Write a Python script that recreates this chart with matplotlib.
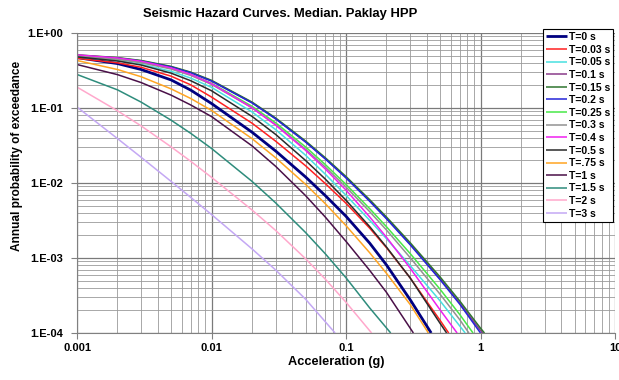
import matplotlib
matplotlib.use("Agg")
import matplotlib.pyplot as plt
from matplotlib.ticker import LogLocator, FixedLocator, FixedFormatter, NullFormatter
import numpy as np

plt.rcParams['font.family'] = ['Liberation Sans', 'DejaVu Sans']

# ---------------- data ----------------
title = "Seismic Hazard Curves. Median. Paklay HPP"
x_label = "Acceleration (g)"
y_label = "Annual probability of exceedance"
x_ticks = [0.001, 0.01, 0.1, 1, 10]
x_tick_labels = ["0.001", "0.01", "0.1", "1", "10"]
y_ticks = [1e-4, 1e-3, 1e-2, 1e-1, 1e0]
y_tick_labels = ["1.E-04", "1.E-03", "1.E-02", "1.E-01", "1.E+00"]

labels = ["T=0 s", "T=0.03 s", "T=0.05 s", "T=0.1 s", "T=0.15 s", "T=0.2 s",
          "T=0.25 s", "T=0.3 s", "T=0.4 s", "T=0.5 s", "T=.75 s", "T=1 s",
          "T=1.5 s", "T=2 s", "T=3 s"]

# accelerations (g) at which the curves were read
acc = [0.001, 0.002, 0.003, 0.005, 0.007, 0.01, 0.02, 0.03, 0.05, 0.07,
       0.1, 0.15, 0.2, 0.3, 0.5, 0.7, 1.0]

x_t000 = acc[:14] + [0.43]
y_t000 = [0.47, 0.391, 0.326, 0.237, 0.1734, 0.1148, 0.0476, 0.0267, 0.01205,
          0.00682, 0.0036, 0.001578, 0.000807, 0.000278, 0.0001]

x_t003 = acc[:15] + [0.58]
y_t003 = [0.46, 0.40, 0.349, 0.266, 0.2037, 0.14, 0.0628, 0.0361, 0.017,
          0.00986, 0.00537, 0.0025, 0.00137, 0.000542, 0.000148, 0.0001]

x_t005 = acc[:15] + [0.77]
y_t005 = [0.48, 0.4285, 0.383, 0.309, 0.2506, 0.1884, 0.0887, 0.0515, 0.0235,
          0.01315, 0.00686, 0.00318, 0.00181, 0.000793, 0.000269, 0.0001]

x_t010 = acc[:17] + [1.04]
y_t010 = [0.505, 0.465, 0.425, 0.354, 0.297, 0.23, 0.118, 0.072, 0.0355,
          0.0212, 0.0118, 0.0058, 0.0034, 0.00153, 0.000532, 0.000252,
          0.000108, 0.0001]

x_t015 = acc[:17] + [1.07]
y_t015 = [0.511, 0.47, 0.43, 0.359, 0.301, 0.234, 0.12, 0.0736, 0.0364,
          0.0218, 0.0122, 0.006, 0.00352, 0.0016, 0.000561, 0.000268,
          0.000116, 0.0001]

x_t020 = acc[:16] + [1.0]
y_t020 = [0.50, 0.462, 0.422, 0.352, 0.295, 0.229, 0.117, 0.0716, 0.0352,
          0.021, 0.0117, 0.0057, 0.00333, 0.0015, 0.000515, 0.000243, 0.0001]

x_t025 = acc[:16] + [0.88]
y_t025 = [0.499, 0.454, 0.41, 0.339, 0.281, 0.214, 0.1054, 0.0634, 0.0303,
          0.0177, 0.00957, 0.00455, 0.00261, 0.001146, 0.000384, 0.000177, 0.0001]

x_t030 = acc[:16] + [0.82]
y_t030 = [0.488, 0.444, 0.401, 0.331, 0.272, 0.2065, 0.1007, 0.0598, 0.0282,
          0.0164, 0.00883, 0.00415, 0.00236, 0.00101, 0.00033, 0.000151, 0.0001]

x_t040 = acc[:15] + [0.67]
y_t040 = [0.511, 0.4645, 0.42, 0.343, 0.281, 0.2113, 0.1007, 0.0592, 0.0273,
          0.01545, 0.00805, 0.00353, 0.00189, 0.000731, 0.000204, 0.0001]

x_t050 = acc[:15] + [0.56]
y_t050 = [0.48, 0.4236, 0.374, 0.2917, 0.2312, 0.1698, 0.0773, 0.0444, 0.02,
          0.01132, 0.00589, 0.00262, 0.0014, 0.000542, 0.000135, 0.0001]

x_t075 = acc[:14] + [0.41]
y_t075 = [0.43, 0.326, 0.261, 0.18, 0.134, 0.0929, 0.0391, 0.0217, 0.0096,
          0.00532, 0.0027, 0.001175, 0.000624, 0.00024, 0.0001]

x_t100 = acc[:13] + [0.317]
y_t100 = [0.38, 0.2786, 0.2183, 0.1486, 0.1099, 0.0769, 0.0313, 0.01667,
          0.0068, 0.00353, 0.001667, 0.000684, 0.000348, 0.0001]

x_t150 = acc[:12] + [0.215]
y_t150 = [0.28, 0.1746, 0.1197, 0.0689, 0.046, 0.0289, 0.01052, 0.00543,
          0.00219, 0.001143, 0.000545, 0.000216, 0.0001]

x_t200 = acc[:11] + [0.155]
y_t200 = [0.19, 0.0918, 0.0577, 0.0304, 0.0195, 0.0119, 0.00437, 0.00233,
          0.00098, 0.000525, 0.000257, 0.0001]

x_t300 = acc[:9] + [0.083]
y_t300 = [0.103, 0.0391, 0.022, 0.01052, 0.00644, 0.0038, 0.001324, 0.000692,
          0.000283, 0.0001]

series_x = [x_t000, x_t003, x_t005, x_t010, x_t015, x_t020, x_t025, x_t030,
            x_t040, x_t050, x_t075, x_t100, x_t150, x_t200, x_t300]
series_y = [y_t000, y_t003, y_t005, y_t010, y_t015, y_t020, y_t025, y_t030,
            y_t040, y_t050, y_t075, y_t100, y_t150, y_t200, y_t300]

colors = ["#000080", "#FF2020", "#48E0E0", "#8A3C8A", "#2F752F", "#2424D8",
          "#48E848", "#929292", "#F020F0", "#2A2A2A", "#FFA422", "#4A1048",
          "#2E8C7C", "#FFA8CC", "#C4A8F4"]
widths = [2.0, 1.1, 1.1, 1.1, 1.1, 1.1, 1.1, 1.1, 1.1, 1.1, 1.1, 1.1, 1.1, 1.1, 1.1]

# ---------------- figure ----------------
W, H = 619, 380
fig = plt.figure(figsize=(W / 100, H / 100), dpi=100)
fig.patch.set_facecolor("white")
ax = fig.add_axes([77 / W, 47 / H, 538 / W, 300 / H])

for xs, ys, c, lw, lab in zip(series_x, series_y, colors, widths, labels):
    ax.plot(xs, ys, color=c, lw=lw, label=lab, solid_capstyle="butt",
            solid_joinstyle="round")

ax.set_xscale("log")
ax.set_yscale("log")
ax.set_xlim(0.001, 10)
ax.set_ylim(1e-4, 1)

ax.xaxis.set_major_locator(FixedLocator(x_ticks))
ax.xaxis.set_major_formatter(FixedFormatter(x_tick_labels))
ax.yaxis.set_major_locator(FixedLocator(y_ticks))
ax.yaxis.set_major_formatter(FixedFormatter(y_tick_labels))
ax.xaxis.set_minor_locator(LogLocator(base=10, subs=np.arange(2, 10)))
ax.yaxis.set_minor_locator(LogLocator(base=10, subs=np.arange(2, 10)))
ax.xaxis.set_minor_formatter(NullFormatter())
ax.yaxis.set_minor_formatter(NullFormatter())

ax.grid(which="major", color="#7a7a7a", lw=0.9)
ax.grid(which="minor", color="#9a9a9a", lw=0.6)
ax.set_axisbelow(True)

ax.tick_params(which="major", length=4, width=0.8, color="#808080",
               labelsize=8, pad=3)
ax.tick_params(axis="y", which="major", pad=6)
ax.tick_params(which="minor", length=0)
for lab in ax.get_xticklabels() + ax.get_yticklabels():
    lab.set_fontweight("bold")
for side in ["left", "bottom"]:
    ax.spines[side].set_color("#808080")
for side in ["top", "right"]:
    ax.spines[side].set_visible(False)

fig.text(280 / W, 1 - 14 / H, title, ha="center", va="center",
         fontsize=9.4, fontweight="bold")
fig.text(336 / W, 1 - 362 / H, x_label, ha="center", va="center",
         fontsize=9.2, fontweight="bold")
fig.text(17 / W, 1 - 156 / H, y_label, ha="center", va="center",
         rotation=90, fontsize=8.6, fontweight="bold")

leg = ax.legend(loc="upper left", bbox_to_anchor=(543 / W, 1 - 29 / H),
                bbox_transform=fig.transFigure,
                labelspacing=0.25, borderpad=0.3, handlelength=2.0,
                handletextpad=0.2, borderaxespad=0, frameon=True,
                fancybox=False, prop={"weight": "bold", "size": 7.5})
leg.get_frame().set_edgecolor("black")
leg.get_frame().set_linewidth(0.8)
leg.get_frame().set_alpha(1)

fig.savefig("out.png", dpi=100, facecolor="white")
